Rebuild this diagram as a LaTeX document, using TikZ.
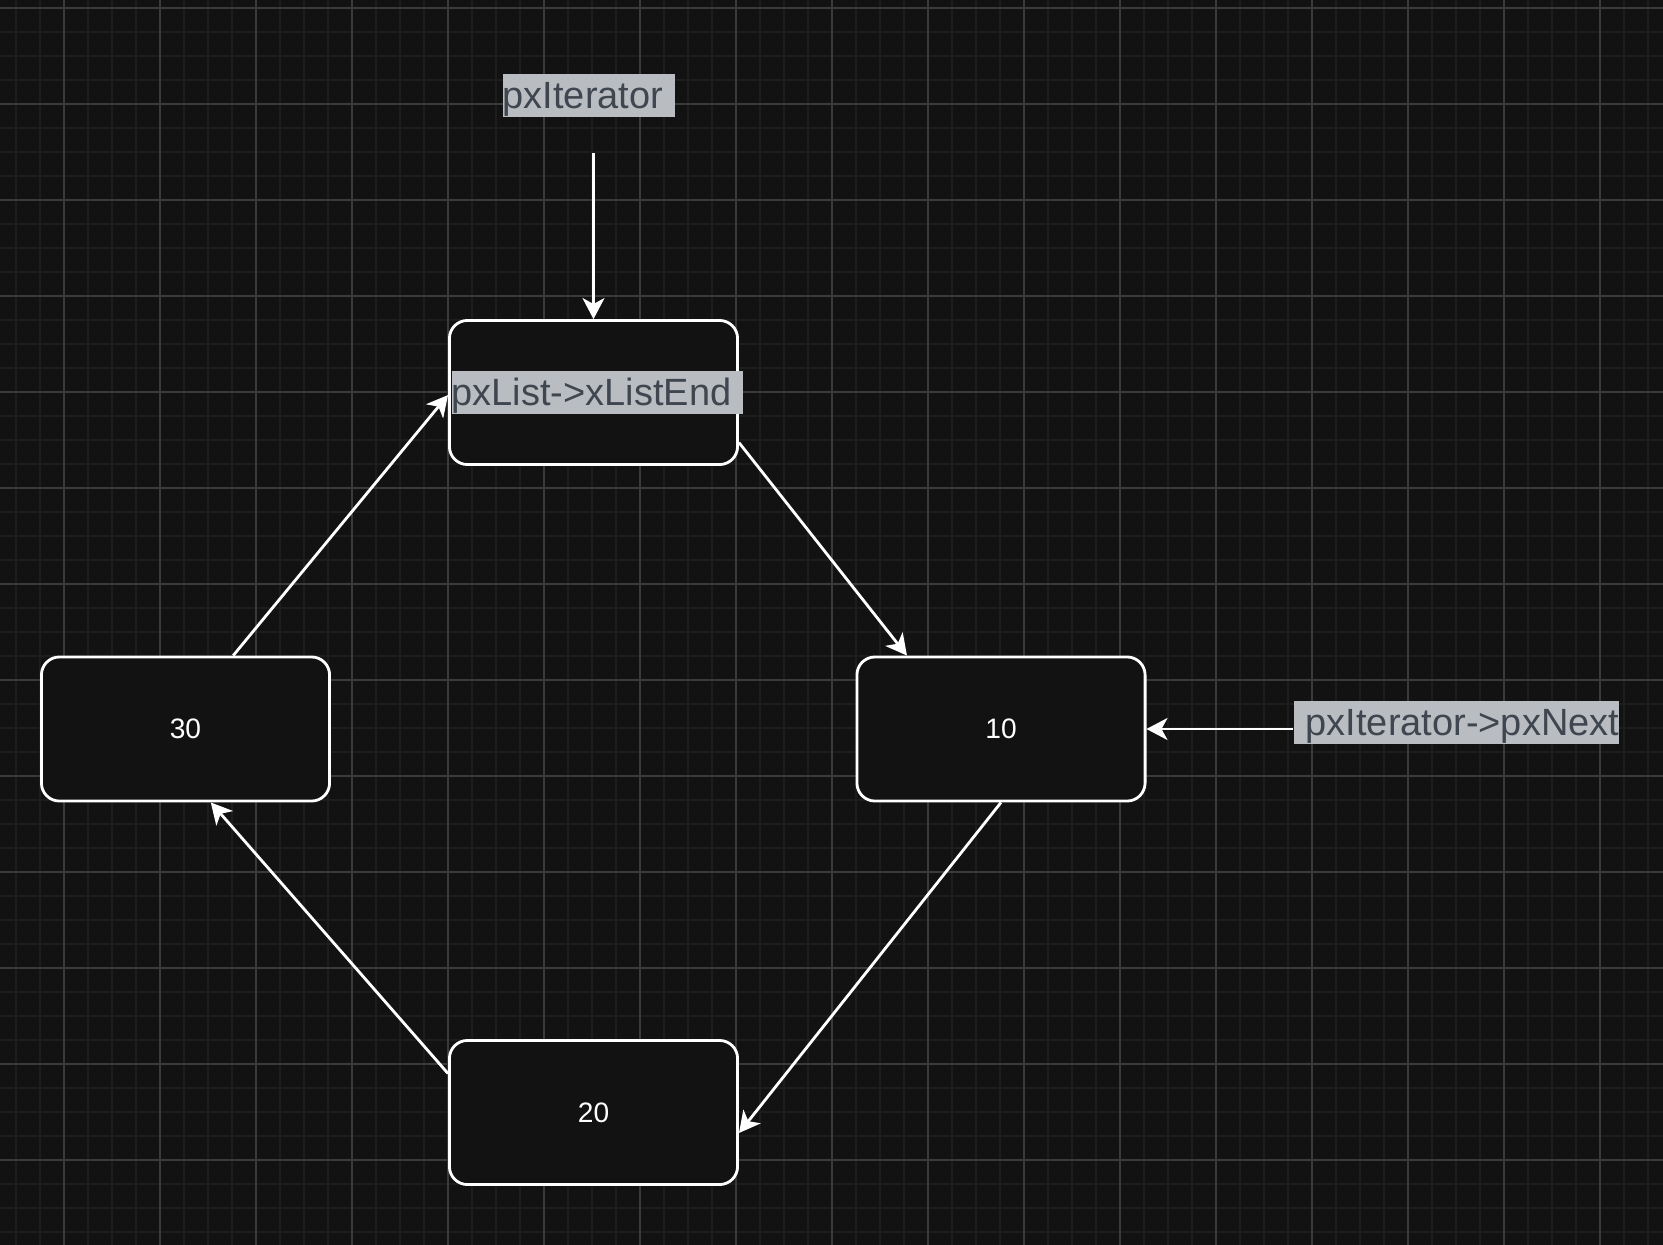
\documentclass[tikz,border=0pt]{standalone}
\usepackage{fontspec}
\setmainfont{Liberation Sans}
\usetikzlibrary{arrows.meta}
\definecolor{canvas}{HTML}{121212}
\definecolor{gridminor}{HTML}{1D1D1D}
\definecolor{gridmajor}{HTML}{3A3A3A}
\definecolor{tagbg}{HTML}{B9BDC1}
\definecolor{tagfg}{HTML}{3F4650}
\begin{document}
\begin{tikzpicture}[x=0.01cm, y=-0.01cm,
  item/.style={draw=white, line width=0.8pt, fill=canvas, rounded corners=0.18cm, minimum width=2.88cm, minimum height=1.44cm, text=white, font=\fontsize{8pt}{9.5pt}\selectfont},
  tag/.style={fill=tagbg, text=tagfg, inner xsep=0pt, inner ysep=0pt, text height=0.34cm, text depth=0.09cm, anchor=base west, font=\fontsize{10.8pt}{13pt}\selectfont},
  link/.style={draw=white, line width=0.8pt},
  >={Stealth[length=0.21cm, width=0.22cm, inset=0.06cm]}]
% background and grid
\fill[canvas] (0,0) rectangle (1663,1245);
\useasboundingbox (0,0) rectangle (1663,1245);
\foreach \x in {16,40,...,1663} \draw[gridminor, line width=0.35pt] (\x,0) -- (\x,1245);
\foreach \y in {8,32,...,1245} \draw[gridminor, line width=0.35pt] (0,\y) -- (1663,\y);
\foreach \x in {64,160,...,1663} \draw[gridmajor, line width=0.35pt] (\x,0) -- (\x,1245);
\foreach \y in {8,104,...,1245} \draw[gridmajor, line width=0.35pt] (0,\y) -- (1663,\y);
% list items
\node[item] (xend) at (593.5,392.5) {};
\node[item] (n10) at (1001,729) {10};
\node[item] (n20) at (593.5,1112.5) {20};
\node[item] (n30) at (185.5,729) {30};
% labels
\node[tag] (lend) at (451,405) {pxList->xListEnd\kern0.12cm};
\node[tag] (itr) at (502,108) {pxIterator\kern0.12cm};
\node[tag] (nxt) at (1293,735) {\kern0.12cm pxIterator->pxNext};
\coordinate (itrend) at (593.5,153);
% connectors
\draw[link,->] (itrend) -- (xend.north);
\draw[link,->] (xend.-19) -- (n10.142);
\draw[link,->] (n10.south) -- (n20.-8);
\draw[link,->] (n20.165) -- (n30.-71);
\draw[link,->] (n30.57) -- (xend.181);
\draw[link,->] (nxt.west |- n10.east) -- (n10.east);
\end{tikzpicture}
\end{document}
